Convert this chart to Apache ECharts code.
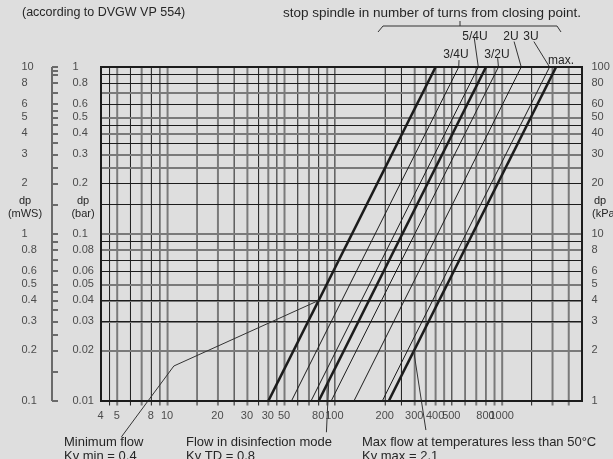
<!DOCTYPE html>
<html><head><meta charset="utf-8">
<script src="https://cdn.jsdelivr.net/npm/echarts/dist/echarts.min.js"></script>
<style>html,body{margin:0;padding:0;background:#dedede}#c{width:613px;height:459px}</style>
</head><body><div id="c"></div>
<script>
// ---------- data ----------
// Kv lines: flow (l/h) where each line meets dp = 0.01 bar and dp = 1 bar
const kvNames = ['Kv min 0.4', '3/4U', '5/4U', 'Kv TD 0.8', '3/2U', '2U', '3U', 'Kv max 2.1'];
const flowAtDpLow = [40, 55, 72, 80, 95, 130, 192, 210];
const flowAtDpHigh = [400, 550, 720, 800, 950, 1300, 1920, 2100];
const dpLow = 0.01, dpHigh = 1;

// x tick labels (flow)
const xTickValues = [4, 5, 8, 10, 20, 30, 40, 50, 80, 100, 200, 300, 400, 500, 800, 1000];
const xTickLabels = ['4', '5', '8', '10', '20', '30', '30', '50', '80', '100', '200', '300', '400', '500', '800', '1000'];

// y tick labels
const yTickValues = [1, 0.8, 0.6, 0.5, 0.4, 0.3, 0.2, 0.1, 0.08, 0.06, 0.05, 0.04, 0.03, 0.02, 0.01];
const barLabels = ['1', '0.8', '0.6', '0.5', '0.4', '0.3', '0.2', '0.1', '0.08', '0.06', '0.05', '0.04', '0.03', '0.02', '0.01'];
const mwsLabels = ['10', '8', '6', '5', '4', '3', '2', '1', '0.8', '0.6', '0.5', '0.4', '0.3', '0.2', '0.1'];
const kpaLabels = ['100', '80', '60', '50', '40', '30', '20', '10', '8', '6', '5', '4', '3', '2', '1'];
const rulerTicks = [1, 0.95, 0.9, 0.8, 0.7, 0.6, 0.55, 0.5, 0.45, 0.4, 0.35, 0.3, 0.25, 0.2, 0.15, 0.1, 0.09, 0.08, 0.07, 0.06, 0.05, 0.045, 0.04, 0.035, 0.03, 0.025, 0.02, 0.015, 0.01];

// grid lines
const vGridDark = [4.5, 6, 8, 9, 15, 25, 35, 45, 60, 80, 100, 200, 250, 500, 600, 800, 1500];
const vGridGray = [5, 7, 10, 20, 30, 40, 50, 70, 90, 300, 350, 400, 450, 700, 900, 1000, 2000, 2500];
const hGridDark = [0.9, 0.8, 0.6, 0.45, 0.35, 0.2, 0.15, 0.09, 0.07, 0.06, 0.045, 0.035, 0.03];
const hGridGray = [0.7, 0.5, 0.4, 0.3, 0.25, 0.1, 0.08, 0.05, 0.04, 0.025, 0.02, 0.015];
const vGridBottom = 0.0094; // vertical grid lines run slightly below the frame

// annotation pointer paths (data space)
const minFlowPointer = [[80, 0.04], [10.9, 0.0162], [5.3, 0.0061]];
const tdPointer = [[92, 0.0132], [89, 0.0065]];
const maxPointer = [[296, 0.0199], [350, 0.0067]];
const topPointers = [
  [[550, 1], [552, 1.10]],
  [[720, 1], [681, 1.49]],
  [[950, 1], [940, 1.13]],
  [[1300, 1], [1178, 1.42]],
  [[1920, 1], [1547, 1.42]]
];

// ---------- styles ----------
const kvLineWidth = [2.6, 1, 1, 2.6, 1, 1, 1, 2.6];
const INK = '#1c1c1c', GRAY = '#7a7a7a', TXT = '#262626';
const FONT = 'Liberation Sans, Arial, sans-serif';

const chart = echarts.init(document.getElementById('c'), null, {renderer: 'canvas'});

const series = [];
// horizontal grid lines
series.push({
  type: 'line', xAxisIndex: 0, yAxisIndex: 0, data: [], silent: true,
  markLine: {
    silent: true, symbol: ['none', 'none'], label: {show: false}, animation: false,
    data: [
      ...hGridGray.map(v => ({yAxis: v, lineStyle: {color: GRAY, width: 2, type: 'solid'}})),
      ...hGridDark.map(v => ({yAxis: v, lineStyle: {color: INK, width: 1, type: 'solid'}}))
    ]
  }
});
// vertical grid lines (extend a little below frame)
[[vGridGray, GRAY, 2], [vGridDark, INK, 1]].forEach(([vals, col, w]) => {
  vals.forEach(v => {
    series.push({
      type: 'line', xAxisIndex: 0, yAxisIndex: 0, symbol: 'none', silent: true, clip: false,
      data: [[v, dpHigh], [v, vGridBottom]], lineStyle: {color: col, width: w}, z: 1
    });
  });
});
// Kv lines
kvNames.forEach((n, i) => {
  series.push({
    type: 'line', name: n, xAxisIndex: 0, yAxisIndex: 0, symbol: 'none', silent: true,
    data: [[flowAtDpLow[i], dpLow], [flowAtDpHigh[i], dpHigh]],
    lineStyle: {color: INK, width: kvLineWidth[i]}, z: 5
  });
});
// pointers
[minFlowPointer, tdPointer, maxPointer, ...topPointers].forEach(p => {
  series.push({
    type: 'line', xAxisIndex: 0, yAxisIndex: 0, symbol: 'none', silent: true, clip: false,
    data: p, lineStyle: {color: '#333', width: 1}, z: 6
  });
});
// x tick labels
series.push({
  type: 'scatter', xAxisIndex: 0, yAxisIndex: 0, symbolSize: 1, clip: false, silent: true,
  itemStyle: {color: 'rgba(0,0,0,0)'},
  data: xTickValues.map((v, i) => ({value: [v, dpLow], name: xTickLabels[i]})),
  label: {show: true, position: [0, 15], align: 'center', verticalAlign: 'middle',
    formatter: p => p.name, color: TXT, fontSize: 11, fontFamily: FONT}
});
// right kPa labels
series.push({
  type: 'scatter', xAxisIndex: 0, yAxisIndex: 0, symbolSize: 1, clip: false, silent: true,
  itemStyle: {color: 'rgba(0,0,0,0)'},
  data: yTickValues.map((v, i) => ({value: [3000, v], name: kpaLabels[i]})),
  label: {show: true, position: [10, 0], align: 'left', verticalAlign: 'middle',
    formatter: p => p.name, color: TXT, fontSize: 11, fontFamily: FONT}
});
// left ruler line
series.push({
  type: 'line', xAxisIndex: 1, yAxisIndex: 1, symbol: 'none', silent: true, clip: false,
  data: [[0, 0.01], [0, 1]], lineStyle: {color: '#6a6a6a', width: 2},
  markLine: {
    silent: true, symbol: ['none', 'none'], label: {show: false}, animation: false,
    lineStyle: {color: '#6a6a6a', width: 2, type: 'solid'},
    data: rulerTicks.map(v => [{coord: [0, v]}, {coord: [1, v]}])
  }
});
// bar labels
series.push({
  type: 'scatter', xAxisIndex: 1, yAxisIndex: 1, symbolSize: 1, clip: false, silent: true,
  itemStyle: {color: 'rgba(0,0,0,0)'},
  data: yTickValues.map((v, i) => ({value: [0, v], name: barLabels[i]})),
  label: {show: true, position: [21, 0], align: 'left', verticalAlign: 'middle',
    formatter: p => p.name, color: TXT, fontSize: 11, fontFamily: FONT}
});
// mWS labels
series.push({
  type: 'scatter', xAxisIndex: 1, yAxisIndex: 1, symbolSize: 1, clip: false, silent: true,
  itemStyle: {color: 'rgba(0,0,0,0)'},
  data: yTickValues.map((v, i) => ({value: [0, v], name: mwsLabels[i]})),
  label: {show: true, position: [-30, 0], align: 'left', verticalAlign: 'middle',
    formatter: p => p.name, color: TXT, fontSize: 11, fontFamily: FONT}
});

function txt(text, x, y, size, align) {
  return {type: 'text', silent: true, z: 10, style: {text, x, y, fill: TXT,
    font: size + 'px ' + FONT, textAlign: align || 'left', textVerticalAlign: 'middle'}};
}

const graphics = [
  txt('(according to DVGW VP 554)', 22, 13, 12.5),
  txt('stop spindle in number of turns from closing point.', 283, 13, 13.5),
  txt('5/4U', 475, 37, 12, 'center'),
  txt('3/4U', 456, 55, 12, 'center'),
  txt('3/2U', 497, 55, 12, 'center'),
  txt('2U', 511, 37, 12, 'center'),
  txt('3U', 531, 37, 12, 'center'),
  txt('max.', 561, 61, 12, 'center'),
  txt('dp', 25, 201, 11, 'center'),
  txt('(mWS)', 25, 214, 11, 'center'),
  txt('dp', 83, 201, 11, 'center'),
  txt('(bar)', 83, 214, 11, 'center'),
  txt('dp', 600, 201, 11, 'center'),
  txt('(kPa)', 592, 214, 11, 'left'),
  txt('Minimum flow', 64, 442, 13),
  txt('Kv min = 0.4', 64, 456, 13),
  txt('Flow in disinfection mode', 186, 442, 13),
  txt('Kv TD = 0.8', 186, 456, 13),
  txt('Max flow at temperatures less than 50°C', 362, 442, 13),
  txt('Kv max = 2.1', 362, 456, 13),
  {type: 'polyline', silent: true, z: 10, shape: {points: [[378, 32], [383, 26], [557, 26], [561, 32]]},
    style: {stroke: '#333', lineWidth: 1, fill: null}},
  {type: 'line', silent: true, z: 10, shape: {x1: 460, y1: 21, x2: 460, y2: 26},
    style: {stroke: '#333', lineWidth: 1}}
];

chart.setOption({
  animation: false,
  backgroundColor: '#dedede',
  grid: [
    {left: 101, right: 31, top: 67, bottom: 58, show: true, borderColor: '#1c1c1c', borderWidth: 2,
      backgroundColor: 'transparent', containLabel: false, outerBoundsMode: 'none', z: 8},
    {left: 52, width: 6, top: 67, bottom: 58, show: false, containLabel: false, outerBoundsMode: 'none'}
  ],
  xAxis: [
    {type: 'log', logBase: 10, min: 4, max: 3000, gridIndex: 0, show: false},
    {type: 'value', min: 0, max: 1, gridIndex: 1, show: false}
  ],
  yAxis: [
    {type: 'log', logBase: 10, min: 0.01, max: 1, gridIndex: 0, show: false},
    {type: 'log', logBase: 10, min: 0.01, max: 1, gridIndex: 1, show: false}
  ],
  series,
  graphic: graphics
});
</script></body></html>
